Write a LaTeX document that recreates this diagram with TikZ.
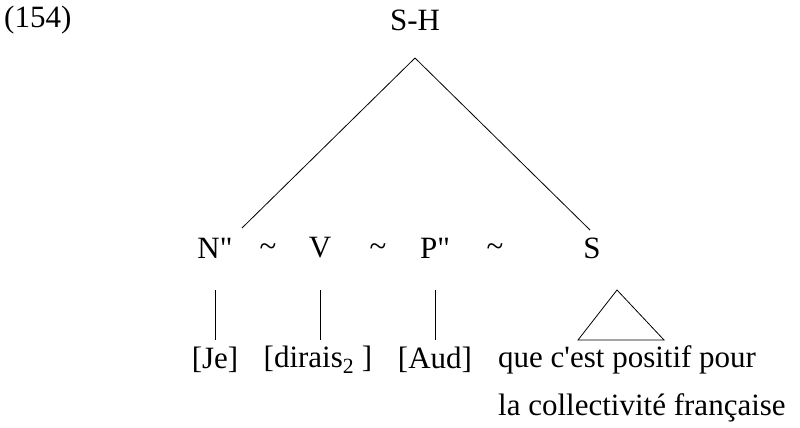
\documentclass[tikz,border=0pt]{standalone}
\usepackage{fontspec}
\setmainfont{Liberation Serif}
\usetikzlibrary{positioning,calc}
\tikzset{
  cat/.style={inner sep=1pt,font=\fontsize{31}{37}\selectfont},
  word/.style={inner sep=1pt,font=\fontsize{31}{37}\selectfont},
  branch/.style={line width=0.8pt}
}
\begin{document}
\begin{tikzpicture}[x=1pt,y=-1pt]
    \useasboundingbox (0,0) rectangle (800,428);
    \node[cat,anchor=west] (ex) at (3,20) {(154)};
    \node[cat] (sh) at (415,20) {S-H};
    \coordinate (top) at (415,58);
    % daughters
    \node[cat] (n) at (215,248) {N\textquotedbl};
    \node[cat] (t1) at (268,250) {\textasciitilde};
    \node[cat] (v) at (320,248) {V};
    \node[cat] (t2) at (378,250) {\textasciitilde};
    \node[cat] (p) at (435,248) {P\textquotedbl};
    \node[cat] (t3) at (495,250) {\textasciitilde};
    \node[cat] (s) at (592,248) {S};
    \draw[branch] (top) -- (242,228) coordinate (nl);
    \draw[branch] (top) -- (590,230) coordinate (sr);
    % terminals
    \node[word] (je) at (215,360) {[Je]};
    \node[word] (dir) at (318,360) {[dirais\textsubscript{2} ]};
    \node[word] (aud) at (435,360) {[Aud]};
    \node[word,anchor=west] (que) at (497,360) {que c\textquotesingle est positif pour};
    \node[word,anchor=west] (la) at (497,408) {la collectivité française};
    \draw[branch] (215,290) -- (215,340);
    \draw[branch] (320,290) -- (320,340);
    \draw[branch] (435,290) -- (435,340);
    \draw[branch] (617,290) -- (578,340) -- (664,340) -- cycle;
\end{tikzpicture}
\end{document}
